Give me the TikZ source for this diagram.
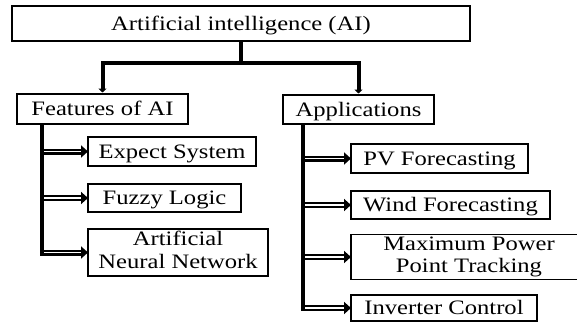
\documentclass[tikz,border=0pt]{standalone}
\usepackage{fontspec}
\setmainfont{Liberation Serif}
\usetikzlibrary{arrows.meta}
% labels are set slightly widened
\newcommand{\sx}[1]{\scalebox{1.2}[1]{#1}}
\newcommand{\twoline}[2]{\sx{\begin{tabular}{@{}c@{}}#1\\#2\end{tabular}}}
\begin{document}
\begin{tikzpicture}[x=1pt,y=-1pt,
  box/.style={draw, line width=1.7pt, inner sep=0pt, outer sep=0pt,
    font=\fontsize{20.5}{23}\selectfont, text height=13pt, text depth=0pt},
  box2/.style={draw, line width=1.7pt, inner sep=0pt, outer sep=0pt,
    font=\fontsize{20.5}{22.5}\selectfont},
  trunk/.style={line width=4pt},
  down/.style={line width=4pt, line join=miter, -{Triangle[length=4pt,width=8pt]}},
  fat/.style={line width=6pt, -{Triangle[length=7pt,width=12pt]}},
  gap/.style={white, line width=1.4pt, shorten <=2pt, shorten >=7pt}
]
\useasboundingbox (0,0) rectangle (577,324);
\clip (0,0) rectangle (577,324);

% root and the two branches
\node[box, minimum width=458pt, minimum height=35pt] (top) at (241,23.5) {\sx{Artificial intelligence (AI)}};
\node[box, minimum width=171pt, minimum height=30pt] (feat) at (102.5,109) {\sx{Features of AI}};
\node[box, minimum width=151pt, minimum height=29pt] (app) at (358.5,109.5) {\sx{Applications}};

% features
\node[box, minimum width=168pt, minimum height=29pt] (es) at (172,151.5) {\sx{Expect System}};
\node[box, minimum width=153pt, minimum height=28pt] (fl) at (164.5,198) {\sx{Fuzzy Logic}};
\node[box2, minimum width=180pt, minimum height=47pt] (ann) at (178,252.5) {\twoline{Artificial}{Neural Network}};

% applications
\node[box, minimum width=177pt, minimum height=29pt] (pv) at (439.5,158.5) {\sx{PV Forecasting}};
\node[box, minimum width=199pt, minimum height=28pt] (wind) at (450.5,205) {\sx{Wind Forecasting}};
\node[box2, minimum width=236pt, minimum height=42pt] (mppt) at (469,257) {\twoline{Maximum Power}{Point Tracking}};
\node[box, minimum width=186pt, minimum height=26pt] (inv) at (444,308) {\sx{Inverter Control}};

% root connectors
\coordinate (hub) at (top.south |- 0,63);
\draw[trunk] (top.south) -- (hub);
\draw[down, shorten >=1.5pt] (hub) -| (feat.north);
\draw[down, shorten >=1.5pt] (hub) -| (app.north);

% vertical trunks
\coordinate (ft) at ([xshift=25pt]feat.south west);
\coordinate (at) at ([xshift=20pt]app.south west);
\draw[trunk, shorten >=-3pt] (ft) -- (ft |- ann.west);
\draw[trunk, shorten >=-3pt] (at) -- (at |- inv.west);

% hollow branch arrows
\foreach \b in {es,fl,ann} {
  \draw[fat] (ft |- \b.west) -- (\b.west);
  \draw[gap] (ft |- \b.west) -- (\b.west);
}
\foreach \b in {pv,wind,mppt,inv} {
  \draw[fat] (at |- \b.west) -- (\b.west);
  \draw[gap] (at |- \b.west) -- (\b.west);
}
\end{tikzpicture}
\end{document}
